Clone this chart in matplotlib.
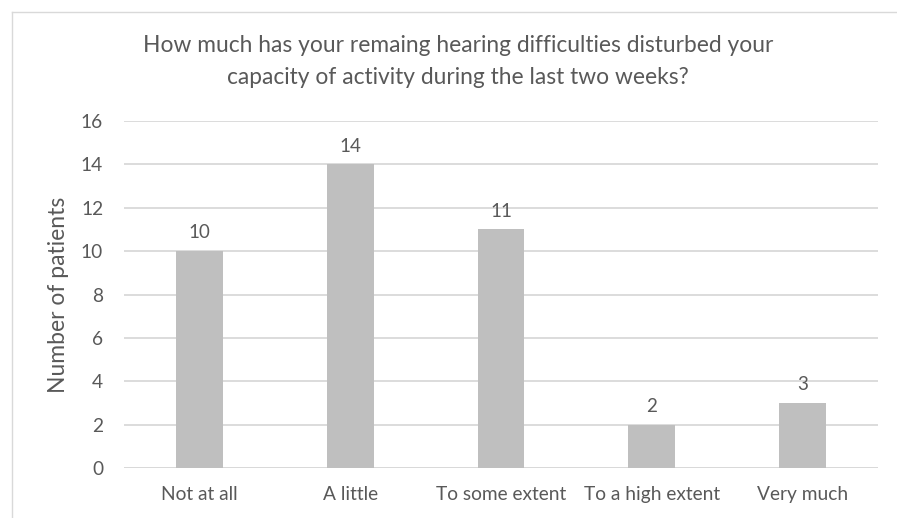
import matplotlib
matplotlib.use("Agg")
import matplotlib.pyplot as plt
from matplotlib.lines import Line2D

categories = ["Not at all", "A little", "To some extent", "To a high extent", "Very much"]
patients = [10, 14, 11, 2, 3]
yticks = [0, 2, 4, 6, 8, 10, 12, 14, 16]

title_lines = ["How much has your remaing hearing difficulties disturbed your",
               "capacity of activity during the last two weeks?"]

plt.rcParams["font.family"] = ["Lato", "DejaVu Sans"]
TEXT = "#595959"
GRID = "#D9D9D9"
BAR = "#BFBFBF"

W, H = 897, 518
fig = plt.figure(figsize=(W / 100, H / 100), dpi=100)
ax = fig.add_axes([124 / W, 1 - 468 / H, (878 - 124) / W, (468 - 121) / H])

x = list(range(len(categories)))
ax.bar(x, patients, width=0.31, color=BAR, zorder=3)
for xi, v in zip(x, patients):
    ax.annotate(str(v), (xi, v), xytext=(0, 7), textcoords="offset points",
                ha="center", va="bottom", fontsize=13.5, color=TEXT)

ax.set_xlim(-0.5, len(categories) - 0.5)
ax.set_ylim(0, 16)
ax.set_yticks(yticks)
ax.set_yticklabels([str(t) for t in yticks])
ax.set_xticks(x)
ax.set_xticklabels(categories)
ax.tick_params(axis="both", length=0, labelsize=13.8, labelcolor=TEXT)
ax.tick_params(axis="y", pad=15)
ax.tick_params(axis="x", pad=13)
ax.yaxis.grid(True, color=GRID, linewidth=1.3, zorder=0)
for s in ax.spines.values():
    s.set_visible(False)
ax.axhline(0, color=GRID, linewidth=1.3, zorder=2)

ax.set_ylabel("Number of patients", fontsize=16.5, color=TEXT)
ax.yaxis.set_label_coords((69 - 124) / (878 - 124), 0.5)

for i, line in enumerate(title_lines):
    fig.text(458 / W, 1 - (46 + 31 * i) / H, line, ha="center", va="center",
             fontsize=16.4, color=TEXT)

# outer chart frame
fig.add_artist(Line2D([11.5 / W, 11.5 / W], [0, 1 - 11.5 / H], color=GRID,
                      linewidth=1.0, transform=fig.transFigure))
fig.add_artist(Line2D([11.5 / W, 1], [1 - 11.5 / H, 1 - 11.5 / H], color=GRID,
                      linewidth=1.0, transform=fig.transFigure))

fig.savefig("out.png", dpi=100, facecolor="white")
